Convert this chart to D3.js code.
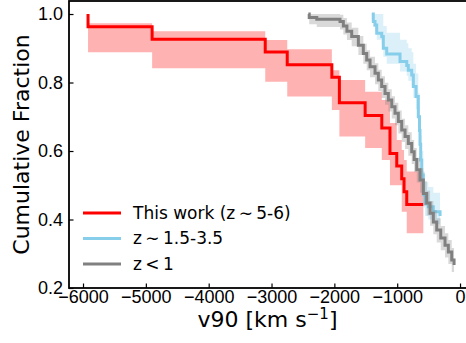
<!DOCTYPE html>
<html lang="en">
<head>
<meta charset="UTF-8">
<title>v90 cumulative fraction</title>
<script src="https://d3js.org/d3.v7.min.js"></script>
<style>
  body { margin: 0; background: #fff; }
  svg { display: block; font-family: "DejaVu Sans", sans-serif; }
  .axis text { font-size: 18px; fill: #000; }
  .axis line { stroke: #000; stroke-width: 1.2px; }
</style>
</head>
<body>
<div id="container"></div>
<script>
// "This work (z ~ 5-6)"
const redV  = [-5920, -5920, -4900, -3100, -2750, -2040, -1920, -1510, -1245, -1115, -1007, -928, -891, -848, -584];
const redF  = [1.000, 0.963, 0.926, 0.889, 0.852, 0.815, 0.741, 0.704, 0.667, 0.593, 0.556, 0.519, 0.481, 0.444, 0.444];
const redLo = [0.888, 0.888, 0.842, 0.802, 0.759, 0.720, 0.642, 0.609, 0.574, 0.500, 0.500, 0.423, 0.423, 0.360, 0.360];
const redHi = [0.973, 0.973, 0.950, 0.924, 0.897, 0.836, 0.807, 0.773, 0.749, 0.682, 0.632, 0.603, 0.574, 0.540, 0.540];

// "z ~ 1.5-3.5"
const blueV  = [-1405, -1380, -1353, -1326, -1246, -1221, -1167, -955, -848, -823, -769, -743, -700, -664, -645, -637, -626, -610, -584, -557, -505, -425, -318];
const blueF  = [1.000, 0.978, 0.968, 0.944, 0.934, 0.900, 0.883, 0.861, 0.850, 0.836, 0.822, 0.788, 0.759, 0.700, 0.660, 0.620, 0.574, 0.530, 0.472, 0.447, 0.437, 0.423, 0.410];
const blueLo = [0.985, 0.962, 0.950, 0.925, 0.912, 0.875, 0.855, 0.832, 0.820, 0.805, 0.790, 0.755, 0.722, 0.660, 0.620, 0.580, 0.532, 0.490, 0.435, 0.410, 0.400, 0.386, 0.376];
const blueHi = [1.000, 1.000, 1.000, 1.000, 1.000, 0.965, 0.945, 0.925, 0.915, 0.900, 0.888, 0.855, 0.826, 0.770, 0.730, 0.690, 0.645, 0.600, 0.540, 0.510, 0.495, 0.478, 0.465];

// "z < 1"
const grayV  = [-2414, -2400, -2280, -1910, -1857, -1800, -1724, -1618, -1539, -1485, -1432, -1353, -1300, -1247, -1194, -1141, -1087, -1035, -982, -928, -875, -823, -769, -730, -689, -637, -584, -530, -477, -425, -371, -307, -239, -186, -132, -95];
const grayF  = [1.000, 0.990, 0.985, 0.978, 0.965, 0.950, 0.934, 0.909, 0.885, 0.866, 0.846, 0.827, 0.807, 0.788, 0.768, 0.749, 0.729, 0.710, 0.686, 0.661, 0.642, 0.622, 0.598, 0.575, 0.545, 0.515, 0.476, 0.448, 0.418, 0.393, 0.369, 0.346, 0.325, 0.305, 0.282, 0.267];
const grayHi = [1.000, 1.000, 1.000, 0.998, 0.988, 0.975, 0.960, 0.936, 0.913, 0.894, 0.875, 0.856, 0.837, 0.818, 0.799, 0.780, 0.760, 0.741, 0.718, 0.694, 0.675, 0.655, 0.632, 0.609, 0.580, 0.550, 0.512, 0.484, 0.454, 0.428, 0.404, 0.381, 0.360, 0.340, 0.317, 0.300];
const grayLo = [0.985, 0.970, 0.962, 0.955, 0.940, 0.924, 0.906, 0.880, 0.855, 0.836, 0.815, 0.795, 0.775, 0.755, 0.735, 0.715, 0.695, 0.675, 0.651, 0.626, 0.606, 0.586, 0.562, 0.538, 0.508, 0.478, 0.440, 0.412, 0.382, 0.357, 0.333, 0.310, 0.289, 0.270, 0.247, 0.232];

const xTicks = [-6000, -5000, -4000, -3000, -2000, -1000, 0];
const yTicks = [0.2, 0.4, 0.6, 0.8, 1.0];

const width = 466, height = 343;
const plot = { left: 69, right: 466, top: 1, bottom: 288 };

const svg = d3.select("#container").append("svg")
    .attr("width", width)
    .attr("height", height);

const x = d3.scaleLinear().domain([-6223, 95]).range([plot.left, plot.right]);
const y = d3.scaleLinear().domain([0.2, 1.038]).range([plot.bottom, plot.top]);

const series = [
    { v: redV, f: redF, lo: redLo, hi: redHi, color: "#ff0000", label: "This work (z\u2009\u223C\u20095-6)" },
    { v: blueV, f: blueF, lo: blueLo, hi: blueHi, color: "#87ceeb", label: "z\u2009\u223C\u20091.5-3.5" },
    { v: grayV, f: grayF, lo: grayLo, hi: grayHi, color: "#808080", label: "z\u2009<\u20091" }
];

const line = d3.line().curve(d3.curveStepAfter).x(d => x(d[0])).y(d => y(d[1]));
const area = d3.area().curve(d3.curveStepAfter)
    .x(d => x(d[0])).y0(d => y(d[1])).y1(d => y(d[2]));

series.forEach(s => {
    const band = s.v.map((v, i) => [v, s.lo[i], s.hi[i]]);
    svg.append("path")
        .attr("d", area(band))
        .attr("fill", s.color)
        .attr("fill-opacity", 0.3);
    svg.append("path")
        .attr("d", line(s.v.map((v, i) => [v, s.f[i]])))
        .attr("fill", "none")
        .attr("stroke", s.color)
        .attr("stroke-width", 3);
});

// axes, ticks pointing inward
const xAxis = svg.append("g")
    .attr("class", "axis")
    .attr("transform", `translate(0,${plot.bottom})`)
    .call(d3.axisBottom(x).tickValues(xTicks).tickSize(-4.5).tickPadding(2.5).tickFormat(d3.format("d")));
xAxis.select(".domain").remove();

const yAxis = svg.append("g")
    .attr("class", "axis")
    .attr("transform", `translate(${plot.left},0)`)
    .call(d3.axisLeft(y).tickValues(yTicks).tickSize(-4.5).tickPadding(6).tickFormat(d3.format(".1f")));
yAxis.select(".domain").remove();

// frame
svg.append("rect")
    .attr("x", plot.left)
    .attr("y", plot.top)
    .attr("width", plot.right - plot.left + 4)
    .attr("height", plot.bottom - plot.top)
    .attr("fill", "none")
    .attr("stroke", "#000")
    .attr("stroke-width", 1.8);

// axis labels
const xl = svg.append("text")
    .attr("x", (plot.left + plot.right) / 2)
    .attr("y", 327)
    .attr("text-anchor", "middle")
    .style("font-size", "22px");
xl.append("tspan").text("v90 [km s");
xl.append("tspan").attr("dy", -8).style("font-size", "15px").text("\u22121");
xl.append("tspan").attr("dy", 8).text("]");

svg.append("text")
    .attr("transform", `translate(29,${(plot.top + plot.bottom) / 2}) rotate(-90)`)
    .attr("text-anchor", "middle")
    .style("font-size", "22px")
    .text("Cumulative Fraction");

// legend
const legend = svg.append("g");
series.forEach((s, i) => {
    const ly = 213 + i * 25.5;
    legend.append("line")
        .attr("x1", 83).attr("x2", 121)
        .attr("y1", ly).attr("y2", ly)
        .attr("stroke", s.color)
        .attr("stroke-width", 3);
    legend.append("text")
        .attr("x", 133)
        .attr("y", ly)
        .attr("dy", "0.35em")
        .style("font-size", "17px")
        .text(s.label);
});
</script>
</body>
</html>
